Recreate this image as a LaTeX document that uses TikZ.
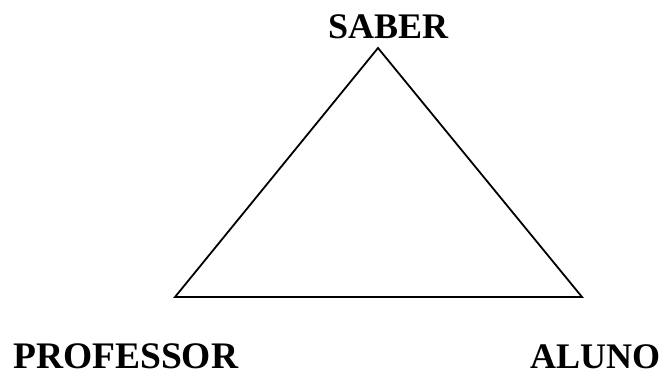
\documentclass[tikz,border=0pt]{standalone}
\usepackage{fontspec}
\setmainfont{Liberation Serif}
\begin{document}
\begin{tikzpicture}[x=1pt,y=-1pt,
  lbl/.style={font=\fontsize{36}{40}\selectfont\bfseries, inner sep=0pt, anchor=base west},
  edge/.style={line width=1.8pt, line join=miter}]
\useasboundingbox (0,0) rectangle (663,371);
\coordinate (top) at (378,48);
\coordinate (left) at (175,297);
\coordinate (right) at (582,297);
\draw[edge] (top) -- (left) -- (right) -- cycle;
\node[lbl] (saber) at (328,39) {SABER};
\node[lbl, font=\fontsize{37.5}{40}\selectfont\bfseries] (prof) at (13,368.5) {PROFESSOR};
\node[lbl] (aluno) at (530,368) {ALUNO};
\end{tikzpicture}
\end{document}
